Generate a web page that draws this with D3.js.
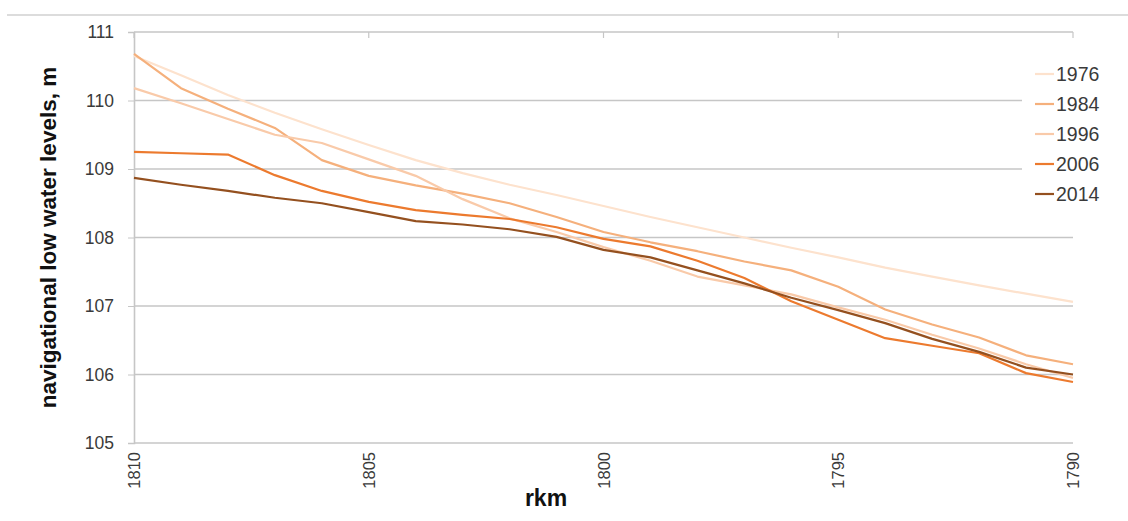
<!DOCTYPE html>
<html>
<head>
<meta charset="utf-8">
<script src="https://cdn.jsdelivr.net/npm/d3@7"></script>
<style>
  body { margin: 0; background: #fff; }
  svg { display: block; }
</style>
</head>
<body>
<svg id="chart" width="1128" height="521"></svg>
<script>
// river km (x axis runs downstream, 1810 -> 1790)
const rkm = [1810, 1809, 1808, 1807, 1806, 1805, 1804, 1803, 1802, 1801, 1800,
  1799, 1798, 1797, 1796, 1795, 1794, 1793, 1792, 1791, 1790]

const years = ["1976", "1984", "1996", "2006", "2014"]

// navigational low water levels, m
const lvl1976 = [110.65, 110.37, 110.08, 109.82, 109.58, 109.35, 109.13, 108.94, 108.77, 108.62, 108.46,
  108.30, 108.15, 108.00, 107.85, 107.71, 107.56, 107.43, 107.30, 107.18, 107.06]
const lvl1984 = [110.68, 110.18, 109.88, 109.60, 109.13, 108.90, 108.76, 108.64, 108.50, 108.30, 108.08,
  107.93, 107.80, 107.65, 107.52, 107.28, 106.95, 106.73, 106.54, 106.28, 106.15]
const lvl1996 = [110.18, 109.96, 109.73, 109.50, 109.38, 109.14, 108.90, 108.56, 108.28, 108.08, 107.86,
  107.66, 107.43, 107.30, 107.17, 106.98, 106.80, 106.58, 106.38, 106.15, 105.95]
const lvl2006 = [109.25, 109.23, 109.21, 108.91, 108.68, 108.52, 108.40, 108.33, 108.27, 108.15, 107.98,
  107.87, 107.66, 107.41, 107.07, 106.80, 106.53, 106.42, 106.31, 106.02, 105.89]
const lvl2014 = [108.87, 108.77, 108.68, 108.58, 108.50, 108.37, 108.24, 108.19, 108.12, 108.01, 107.82,
  107.71, 107.52, 107.33, 107.12, 106.94, 106.75, 106.52, 106.33, 106.10, 106.00]

const xTicks = [1810, 1805, 1800, 1795, 1790]
const yTicks = [105, 106, 107, 108, 109, 110, 111]

const levels = [lvl1976, lvl1984, lvl1996, lvl2006, lvl2014]
const colors = ["#fde2cd", "#f5b07c", "#f9caa9", "#ec7a2e", "#94501f"]

const svg = d3.select("#chart")
const margin = { top: 32, right: 55, bottom: 78, left: 134 }
const width = 1128, height = 521
const font = "'Liberation Sans', Arial, sans-serif"

const x = d3.scaleLinear()
  .domain([1810, 1790])
  .range([margin.left, width - margin.right])

const y = d3.scaleLinear()
  .domain([105, 111])
  .range([height - margin.bottom, margin.top])

// chart frame, top edge only shows
svg.append("line")
  .attr("x1", 7).attr("x2", width)
  .attr("y1", 15).attr("y2", 15)
  .attr("stroke", "#dcdcdc")
  .attr("stroke-width", 2)

// horizontal gridlines
svg.append("g")
  .selectAll("line")
  .data(yTicks)
  .enter()
  .append("line")
  .attr("x1", margin.left)
  .attr("x2", x(1790))
  .attr("y1", d => y(d))
  .attr("y2", d => y(d))
  .attr("stroke", "#c6c6c6")
  .attr("stroke-width", 1.6)

// left axis with outside ticks
const yAxis = svg.append("g")
  .attr("transform", `translate(${margin.left},0)`)
  .call(d3.axisLeft(y).tickValues(yTicks).tickSize(6).tickPadding(14).tickFormat(d3.format("d")))
yAxis.select(".domain").attr("stroke", "#c6c6c6").attr("stroke-width", 1.6)
yAxis.selectAll(".tick line").attr("stroke", "#c6c6c6")
yAxis.selectAll("text")
  .attr("fill", "#3a3a3a")
  .style("font-family", font)
  .style("font-size", "17.5px")

// small ticks hanging from the top line
svg.append("g")
  .selectAll("line")
  .data(xTicks)
  .enter()
  .append("line")
  .attr("x1", d => x(d))
  .attr("x2", d => x(d))
  .attr("y1", margin.top)
  .attr("y2", margin.top + 6)
  .attr("stroke", "#c6c6c6")
  .attr("stroke-width", 1.2)

// rotated x tick labels
svg.append("g")
  .selectAll("text")
  .data(xTicks)
  .enter()
  .append("text")
  .attr("transform", d => `translate(${x(d) + 6},${y(105) + 9}) rotate(-90)`)
  .attr("text-anchor", "end")
  .attr("fill", "#3a3a3a")
  .style("font-family", font)
  .style("font-size", "16.5px")
  .text(d => d)

// the series
const line = d3.line()
  .x((d, i) => x(rkm[i]))
  .y(d => y(d))

svg.append("g")
  .selectAll("path")
  .data(levels)
  .enter()
  .append("path")
  .attr("d", d => line(d))
  .attr("fill", "none")
  .attr("stroke", (d, i) => colors[i])
  .attr("stroke-width", 2.2)
  .attr("stroke-linejoin", "round")

// legend, white box over the gridlines
const legend = svg.append("g")
  .attr("transform", "translate(1022,58)")
legend.append("rect")
  .attr("width", 95).attr("height", 152)
  .attr("fill", "#fff")

const rows = legend.selectAll("g")
  .data(years)
  .enter()
  .append("g")
  .attr("transform", (d, i) => `translate(0,${16 + i * 30})`)
rows.append("line")
  .attr("x1", 13).attr("x2", 32)
  .attr("stroke", (d, i) => colors[i])
  .attr("stroke-width", 2.2)
rows.append("text")
  .attr("x", 34)
  .attr("dy", "0.36em")
  .attr("fill", "#3a3a3a")
  .style("font-family", font)
  .style("font-size", "19.5px")
  .text(d => d)

// axis titles
svg.append("text")
  .attr("transform", `translate(56,${(margin.top + y(105)) / 2}) rotate(-90)`)
  .attr("text-anchor", "middle")
  .attr("fill", "#111")
  .style("font-family", font)
  .style("font-weight", "bold")
  .style("font-size", "22.5px")
  .text("navigational low water levels, m")

svg.append("text")
  .attr("x", 546)
  .attr("y", 506)
  .attr("text-anchor", "middle")
  .attr("fill", "#111")
  .style("font-family", font)
  .style("font-weight", "bold")
  .style("font-size", "23px")
  .text("rkm")
</script>
</body>
</html>
